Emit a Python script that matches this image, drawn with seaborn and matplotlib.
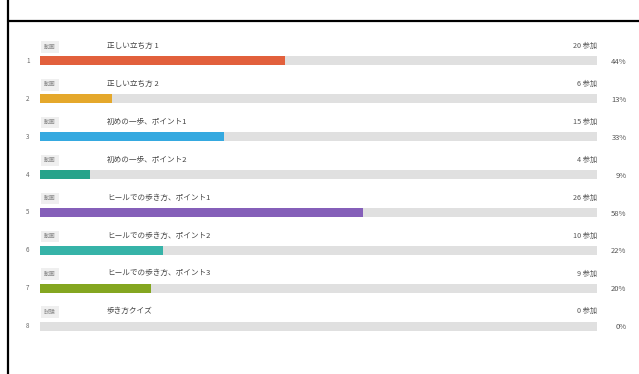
import matplotlib
matplotlib.use("Agg")
import matplotlib.pyplot as plt
import seaborn as sns
import pandas as pd
from matplotlib.lines import Line2D

sns.set_theme(style="white")
plt.rcParams['font.family'] = ['Noto Sans CJK JP', 'DejaVu Sans']

titles = ["正しい立ち方 1", "正しい立ち方 2", "初めの一歩、ポイント1", "初めの一歩、ポイント2",
          "ヒールでの歩き方、ポイント1", "ヒールでの歩き方、ポイント2", "ヒールでの歩き方、ポイント3",
          "歩き方クイズ"]
badges = ["動画", "動画", "動画", "動画", "動画", "動画", "動画", "試験"]
counts = [20, 6, 15, 4, 26, 10, 9, 0]
percents = [44, 13, 33, 9, 58, 22, 20, 0]
colors = ["#E2603C", "#E5A82B", "#35A9E0", "#26A38A", "#855FB9", "#36B3A8", "#84A620", "#DDDDDD"]

rows = [str(i + 1) for i in range(len(titles))]
df = pd.DataFrame({"row": rows, "pct": percents, "track": [100] * len(rows)})

W, H = 639, 374
fig = plt.figure(figsize=(W / 100, H / 100), dpi=100)
ax = fig.add_axes([40 / W, 1 - 345 / H, 557 / W, 303 / H])

sns.barplot(data=df, y="row", x="track", color="#E0E0E0", width=0.24, ax=ax, orient="h",
            saturation=1, linewidth=0)
sns.barplot(data=df, y="row", x="pct", hue="row", palette=colors, width=0.24, ax=ax,
            orient="h", legend=False, saturation=1, linewidth=0)

ax.set_xlim(0, 100)
ax.set_ylim(7.5, -0.5)
ax.axis("off")

for i in range(len(titles)):
    ax.text(-2.2, i, rows[i], ha="center", va="center", fontsize=4.5, color="#666666",
            clip_on=False)
    ax.text(1.8, i - 0.37, badges[i], ha="center", va="center", fontsize=4.2, color="#888888",
            clip_on=False,
            bbox=dict(boxstyle="square,pad=0.55", facecolor="#EFEFEF", edgecolor="none"))
    ax.text(12.0, i - 0.39, titles[i], ha="left", va="center", fontsize=5.5, color="#444444",
            clip_on=False)
    ax.text(100, i - 0.39, f"{counts[i]} 参加", ha="right", va="center", fontsize=5.2,
            color="#555555", clip_on=False)
    ax.text(105.3, i + 0.03, f"{percents[i]}%", ha="right", va="center", fontsize=5.5,
            color="#555555", clip_on=False)

fig.add_artist(Line2D([7.5 / W, 7.5 / W], [0, 1], color="black", linewidth=1.6,
                      transform=fig.transFigure))
fig.add_artist(Line2D([7.5 / W, 1], [1 - 21 / H, 1 - 21 / H], color="black", linewidth=1.6,
                      transform=fig.transFigure))

fig.savefig("out.png", dpi=100)
